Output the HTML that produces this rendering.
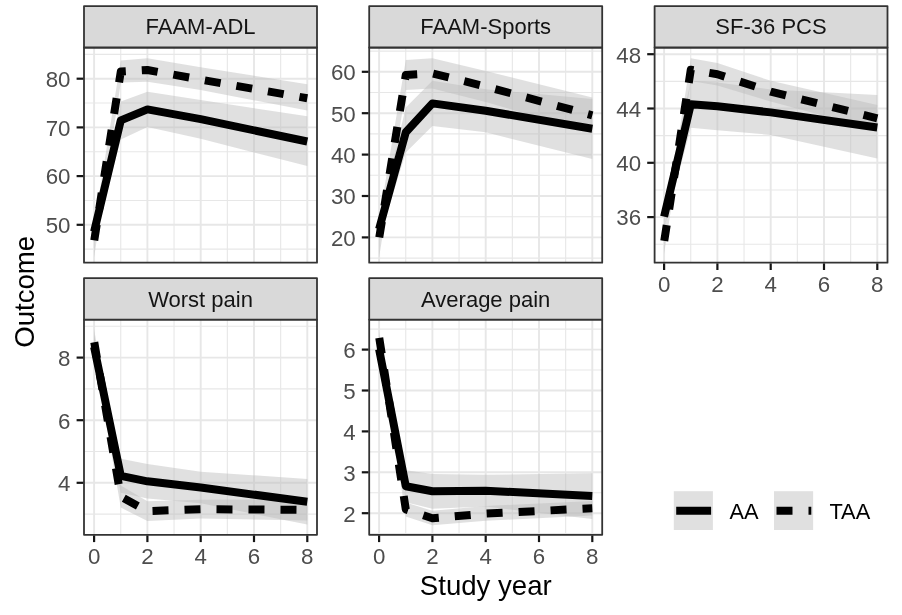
<!DOCTYPE html>
<html><head><meta charset="utf-8"><title>Outcome by study year</title>
<style>html,body{margin:0;padding:0;background:#fff}svg{display:block}text{font-family:"Liberation Sans",Arial,Helvetica,sans-serif}.ax{font-size:22.3px;fill:#4d4d4d}.st{font-size:22px;fill:#141414}.lg{font-size:21.8px;fill:#000}.ti{font-size:27.6px;fill:#000}.gM{stroke:#e7e7e7;stroke-width:1.9;fill:none}.gm{stroke:#e7e7e7;stroke-width:1.1;fill:none}.tk{stroke:#151515;stroke-width:2.2;fill:none}.bd{stroke:#333;stroke-width:1.8;fill:none;stroke-linejoin:round}.sb{stroke:#333;stroke-width:1.8;fill:#d9d9d9;stroke-linejoin:round}.rb{fill:#bbb;fill-opacity:.45;stroke:none}.ln{stroke:#000;stroke-width:8;fill:none;stroke-linejoin:round;stroke-linecap:butt}.ds{stroke-dasharray:16 16;stroke-dashoffset:-1}</style></head><body>
<svg width="902" height="615" viewBox="0 0 902 615">
<rect width="902" height="615" fill="#fff"/>
<g>
<clipPath id="c0"><rect x="84.0" y="47.5" width="233.0" height="215.2"/></clipPath>
<g clip-path="url(#c0)">
<path class="gm" d="M84.0 54.35H317.0"/>
<path class="gm" d="M84.0 103.05000000000001H317.0"/>
<path class="gm" d="M84.0 151.75H317.0"/>
<path class="gm" d="M84.0 200.45000000000002H317.0"/>
<path class="gm" d="M84.0 249.15H317.0"/>
<path class="gm" d="M120.75 47.5V262.7"/>
<path class="gm" d="M174.05 47.5V262.7"/>
<path class="gm" d="M227.35 47.5V262.7"/>
<path class="gm" d="M280.65 47.5V262.7"/>
<path class="gM" d="M84.0 78.7H317.0"/>
<path class="gM" d="M84.0 127.4H317.0"/>
<path class="gM" d="M84.0 176.1H317.0"/>
<path class="gM" d="M84.0 224.8H317.0"/>
<path class="gM" d="M94.10 47.5V262.7"/>
<path class="gM" d="M147.40 47.5V262.7"/>
<path class="gM" d="M200.70 47.5V262.7"/>
<path class="gM" d="M254.00 47.5V262.7"/>
<path class="gM" d="M307.30 47.5V262.7"/>
<polygon class="rb" points="94.1,223.6 120.8,101.4 147.4,91.7 200.7,100.0 307.3,116.3 307.3,166.0 200.7,138.8 147.4,127.1 120.8,139.4 94.1,239.6"/>
<polygon class="rb" points="94.1,225.4 120.8,60.4 147.4,58.3 200.7,67.2 307.3,84.2 307.3,110.5 200.7,90.0 147.4,81.7 120.8,82.6 94.1,257.4"/>
<polyline class="ln" points="94.1,231.6 120.8,120.4 147.4,109.4 200.7,119.1 307.3,141.5"/>
<polyline class="ln ds" points="94.1,241.4 120.8,71.5 147.4,70.0 200.7,79.6 307.3,98.3"/>
</g>
<rect class="bd" x="84.0" y="47.5" width="233.0" height="215.2"/>
<rect class="sb" x="84.0" y="6.1" width="233.0" height="41.4"/>
<text class="st" x="200.5" y="34.4" text-anchor="middle">FAAM-ADL</text>
<path class="tk" d="M76.6 78.7H83.3"/>
<text class="ax" x="70.5" y="87.0" text-anchor="end">80</text>
<path class="tk" d="M76.6 127.4H83.3"/>
<text class="ax" x="70.5" y="135.7" text-anchor="end">70</text>
<path class="tk" d="M76.6 176.1H83.3"/>
<text class="ax" x="70.5" y="184.4" text-anchor="end">60</text>
<path class="tk" d="M76.6 224.8H83.3"/>
<text class="ax" x="70.5" y="233.1" text-anchor="end">50</text>
</g>
<g>
<clipPath id="c1"><rect x="369.2" y="47.5" width="233.00000000000006" height="215.2"/></clipPath>
<g clip-path="url(#c1)">
<path class="gm" d="M369.2 51.1H602.2"/>
<path class="gm" d="M369.2 92.5H602.2"/>
<path class="gm" d="M369.2 133.9H602.2"/>
<path class="gm" d="M369.2 175.3H602.2"/>
<path class="gm" d="M369.2 216.70000000000002H602.2"/>
<path class="gm" d="M369.2 258.09999999999997H602.2"/>
<path class="gm" d="M405.75 47.5V262.7"/>
<path class="gm" d="M459.05 47.5V262.7"/>
<path class="gm" d="M512.35 47.5V262.7"/>
<path class="gm" d="M565.65 47.5V262.7"/>
<path class="gM" d="M369.2 71.80000000000001H602.2"/>
<path class="gM" d="M369.2 113.2H602.2"/>
<path class="gM" d="M369.2 154.6H602.2"/>
<path class="gM" d="M369.2 196.0H602.2"/>
<path class="gM" d="M369.2 237.4H602.2"/>
<path class="gM" d="M379.10 47.5V262.7"/>
<path class="gM" d="M432.40 47.5V262.7"/>
<path class="gM" d="M485.70 47.5V262.7"/>
<path class="gM" d="M539.00 47.5V262.7"/>
<path class="gM" d="M592.30 47.5V262.7"/>
<polygon class="rb" points="379.1,219.0 405.8,107.5 432.4,80.8 485.7,89.3 592.3,99.0 592.3,159.0 485.7,132.3 432.4,126.0 405.8,152.6 379.1,239.0"/>
<polygon class="rb" points="379.1,219.4 405.8,60.1 432.4,58.3 485.7,71.0 592.3,97.6 592.3,133.0 485.7,102.0 432.4,88.5 405.8,89.9 379.1,257.4"/>
<polyline class="ln" points="379.1,229.0 405.8,132.3 432.4,103.4 485.7,110.8 592.3,128.7"/>
<polyline class="ln ds" points="379.1,238.4 405.8,75.0 432.4,73.4 485.7,86.5 592.3,115.3"/>
</g>
<rect class="bd" x="369.2" y="47.5" width="233.00000000000006" height="215.2"/>
<rect class="sb" x="369.2" y="6.1" width="233.00000000000006" height="41.4"/>
<text class="st" x="485.7" y="34.4" text-anchor="middle">FAAM-Sports</text>
<path class="tk" d="M361.8 71.80000000000001H368.5"/>
<text class="ax" x="355.7" y="80.1" text-anchor="end">60</text>
<path class="tk" d="M361.8 113.2H368.5"/>
<text class="ax" x="355.7" y="121.5" text-anchor="end">50</text>
<path class="tk" d="M361.8 154.6H368.5"/>
<text class="ax" x="355.7" y="162.9" text-anchor="end">40</text>
<path class="tk" d="M361.8 196.0H368.5"/>
<text class="ax" x="355.7" y="204.3" text-anchor="end">30</text>
<path class="tk" d="M361.8 237.4H368.5"/>
<text class="ax" x="355.7" y="245.7" text-anchor="end">20</text>
</g>
<g>
<clipPath id="c2"><rect x="654.6" y="47.5" width="232.89999999999998" height="215.2"/></clipPath>
<g clip-path="url(#c2)">
<path class="gm" d="M654.6 81.35H887.5"/>
<path class="gm" d="M654.6 135.65H887.5"/>
<path class="gm" d="M654.6 189.95H887.5"/>
<path class="gm" d="M654.6 244.25H887.5"/>
<path class="gm" d="M690.75 47.5V262.7"/>
<path class="gm" d="M744.05 47.5V262.7"/>
<path class="gm" d="M797.35 47.5V262.7"/>
<path class="gm" d="M850.65 47.5V262.7"/>
<path class="gM" d="M654.6 54.2H887.5"/>
<path class="gM" d="M654.6 108.5H887.5"/>
<path class="gM" d="M654.6 162.79999999999998H887.5"/>
<path class="gM" d="M654.6 217.1H887.5"/>
<path class="gM" d="M664.10 47.5V262.7"/>
<path class="gM" d="M717.40 47.5V262.7"/>
<path class="gM" d="M770.70 47.5V262.7"/>
<path class="gM" d="M824.00 47.5V262.7"/>
<path class="gM" d="M877.30 47.5V262.7"/>
<polygon class="rb" points="664.1,204.7 690.8,80.8 717.4,82.4 770.7,89.5 877.3,94.9 877.3,158.5 770.7,134.9 717.4,130.2 690.8,127.8 664.1,228.7"/>
<polygon class="rb" points="664.1,229.9 690.8,58.3 717.4,63.0 770.7,80.8 877.3,104.9 877.3,130.3 770.7,101.6 717.4,85.4 690.8,81.1 664.1,253.9"/>
<polyline class="ln" points="664.1,216.7 690.8,104.3 717.4,106.3 770.7,112.4 877.3,127.5"/>
<polyline class="ln ds" points="664.1,241.9 690.8,69.7 717.4,74.2 770.7,91.6 877.3,118.3"/>
</g>
<rect class="bd" x="654.6" y="47.5" width="232.89999999999998" height="215.2"/>
<rect class="sb" x="654.6" y="6.1" width="232.89999999999998" height="41.4"/>
<text class="st" x="771.0" y="34.4" text-anchor="middle">SF-36 PCS</text>
<path class="tk" d="M647.2 54.2H653.9"/>
<text class="ax" x="641.1" y="62.5" text-anchor="end">48</text>
<path class="tk" d="M647.2 108.5H653.9"/>
<text class="ax" x="641.1" y="116.8" text-anchor="end">44</text>
<path class="tk" d="M647.2 162.79999999999998H653.9"/>
<text class="ax" x="641.1" y="171.1" text-anchor="end">40</text>
<path class="tk" d="M647.2 217.1H653.9"/>
<text class="ax" x="641.1" y="225.4" text-anchor="end">36</text>
<path class="tk" d="M664.10 263.4V270.0"/>
<text class="ax" x="664.10" y="291.5" text-anchor="middle">0</text>
<path class="tk" d="M717.40 263.4V270.0"/>
<text class="ax" x="717.40" y="291.5" text-anchor="middle">2</text>
<path class="tk" d="M770.70 263.4V270.0"/>
<text class="ax" x="770.70" y="291.5" text-anchor="middle">4</text>
<path class="tk" d="M824.00 263.4V270.0"/>
<text class="ax" x="824.00" y="291.5" text-anchor="middle">6</text>
<path class="tk" d="M877.30 263.4V270.0"/>
<text class="ax" x="877.30" y="291.5" text-anchor="middle">8</text>
</g>
<g>
<clipPath id="c3"><rect x="84.0" y="319.6" width="233.0" height="215.19999999999993"/></clipPath>
<g clip-path="url(#c3)">
<path class="gm" d="M84.0 326.3H317.0"/>
<path class="gm" d="M84.0 388.9H317.0"/>
<path class="gm" d="M84.0 451.5H317.0"/>
<path class="gm" d="M84.0 514.1H317.0"/>
<path class="gm" d="M120.75 319.6V534.8"/>
<path class="gm" d="M174.05 319.6V534.8"/>
<path class="gm" d="M227.35 319.6V534.8"/>
<path class="gm" d="M280.65 319.6V534.8"/>
<path class="gM" d="M84.0 357.6H317.0"/>
<path class="gM" d="M84.0 420.2H317.0"/>
<path class="gM" d="M84.0 482.8H317.0"/>
<path class="gM" d="M94.10 319.6V534.8"/>
<path class="gM" d="M147.40 319.6V534.8"/>
<path class="gM" d="M200.70 319.6V534.8"/>
<path class="gM" d="M254.00 319.6V534.8"/>
<path class="gM" d="M307.30 319.6V534.8"/>
<polygon class="rb" points="94.1,335.0 120.8,458.8 147.4,464.1 200.7,471.7 307.3,479.0 307.3,524.6 200.7,503.3 147.4,498.5 120.8,492.8 94.1,359.0"/>
<polygon class="rb" points="94.1,328.9 120.8,485.6 147.4,501.3 200.7,499.8 307.3,499.3 307.3,520.5 200.7,518.6 147.4,520.9 120.8,507.6 94.1,353.7"/>
<polyline class="ln" points="94.1,347.0 120.8,475.8 147.4,481.3 200.7,487.5 307.3,501.8"/>
<polyline class="ln ds" points="94.1,341.3 120.8,496.6 147.4,511.1 200.7,509.2 307.3,509.9"/>
</g>
<rect class="bd" x="84.0" y="319.6" width="233.0" height="215.19999999999993"/>
<rect class="sb" x="84.0" y="278.2" width="233.0" height="41.400000000000034"/>
<text class="st" x="200.5" y="306.5" text-anchor="middle">Worst pain</text>
<path class="tk" d="M76.6 357.6H83.3"/>
<text class="ax" x="70.5" y="365.9" text-anchor="end">8</text>
<path class="tk" d="M76.6 420.2H83.3"/>
<text class="ax" x="70.5" y="428.5" text-anchor="end">6</text>
<path class="tk" d="M76.6 482.8H83.3"/>
<text class="ax" x="70.5" y="491.1" text-anchor="end">4</text>
<path class="tk" d="M94.10 535.5V542.0999999999999"/>
<text class="ax" x="94.10" y="563.6" text-anchor="middle">0</text>
<path class="tk" d="M147.40 535.5V542.0999999999999"/>
<text class="ax" x="147.40" y="563.6" text-anchor="middle">2</text>
<path class="tk" d="M200.70 535.5V542.0999999999999"/>
<text class="ax" x="200.70" y="563.6" text-anchor="middle">4</text>
<path class="tk" d="M254.00 535.5V542.0999999999999"/>
<text class="ax" x="254.00" y="563.6" text-anchor="middle">6</text>
<path class="tk" d="M307.30 535.5V542.0999999999999"/>
<text class="ax" x="307.30" y="563.6" text-anchor="middle">8</text>
</g>
<g>
<clipPath id="c4"><rect x="369.2" y="319.6" width="233.00000000000006" height="215.19999999999993"/></clipPath>
<g clip-path="url(#c4)">
<path class="gm" d="M369.2 329.15H602.2"/>
<path class="gm" d="M369.2 370.05H602.2"/>
<path class="gm" d="M369.2 410.95H602.2"/>
<path class="gm" d="M369.2 451.85H602.2"/>
<path class="gm" d="M369.2 492.75H602.2"/>
<path class="gm" d="M369.2 533.65H602.2"/>
<path class="gm" d="M405.75 319.6V534.8"/>
<path class="gm" d="M459.05 319.6V534.8"/>
<path class="gm" d="M512.35 319.6V534.8"/>
<path class="gm" d="M565.65 319.6V534.8"/>
<path class="gM" d="M369.2 349.6H602.2"/>
<path class="gM" d="M369.2 390.5H602.2"/>
<path class="gM" d="M369.2 431.4H602.2"/>
<path class="gM" d="M369.2 472.3H602.2"/>
<path class="gM" d="M369.2 513.2H602.2"/>
<path class="gM" d="M379.10 319.6V534.8"/>
<path class="gM" d="M432.40 319.6V534.8"/>
<path class="gM" d="M485.70 319.6V534.8"/>
<path class="gM" d="M539.00 319.6V534.8"/>
<path class="gM" d="M592.30 319.6V534.8"/>
<polygon class="rb" points="379.1,340.0 405.8,470.3 432.4,473.9 485.7,474.8 592.3,473.3 592.3,518.9 485.7,506.6 432.4,508.7 405.8,502.3 379.1,360.0"/>
<polygon class="rb" points="379.1,331.6 405.8,502.6 432.4,510.8 485.7,506.0 592.3,501.0 592.3,515.6 485.7,520.8 432.4,525.2 405.8,516.4 379.1,343.6"/>
<polyline class="ln" points="379.1,349.3 405.8,486.3 432.4,491.3 485.7,490.7 592.3,496.1"/>
<polyline class="ln ds" points="379.1,336.9 405.8,509.4 432.4,518.2 485.7,513.6 592.3,508.3"/>
</g>
<rect class="bd" x="369.2" y="319.6" width="233.00000000000006" height="215.19999999999993"/>
<rect class="sb" x="369.2" y="278.2" width="233.00000000000006" height="41.400000000000034"/>
<text class="st" x="485.7" y="306.5" text-anchor="middle">Average pain</text>
<path class="tk" d="M361.8 349.6H368.5"/>
<text class="ax" x="355.7" y="357.9" text-anchor="end">6</text>
<path class="tk" d="M361.8 390.5H368.5"/>
<text class="ax" x="355.7" y="398.8" text-anchor="end">5</text>
<path class="tk" d="M361.8 431.4H368.5"/>
<text class="ax" x="355.7" y="439.7" text-anchor="end">4</text>
<path class="tk" d="M361.8 472.3H368.5"/>
<text class="ax" x="355.7" y="480.6" text-anchor="end">3</text>
<path class="tk" d="M361.8 513.2H368.5"/>
<text class="ax" x="355.7" y="521.5" text-anchor="end">2</text>
<path class="tk" d="M379.10 535.5V542.0999999999999"/>
<text class="ax" x="379.10" y="563.6" text-anchor="middle">0</text>
<path class="tk" d="M432.40 535.5V542.0999999999999"/>
<text class="ax" x="432.40" y="563.6" text-anchor="middle">2</text>
<path class="tk" d="M485.70 535.5V542.0999999999999"/>
<text class="ax" x="485.70" y="563.6" text-anchor="middle">4</text>
<path class="tk" d="M539.00 535.5V542.0999999999999"/>
<text class="ax" x="539.00" y="563.6" text-anchor="middle">6</text>
<path class="tk" d="M592.30 535.5V542.0999999999999"/>
<text class="ax" x="592.30" y="563.6" text-anchor="middle">8</text>
</g>
<text class="ti" x="485.8" y="595.2" text-anchor="middle">Study year</text>
<text class="ti" transform="translate(33.5 291.8) rotate(-90)" text-anchor="middle">Outcome</text>
<rect x="673.8" y="491.2" width="39.1" height="38.8" fill="#bbb" fill-opacity=".45"/>
<path class="ln" d="M676.2 510.8H711.1"/>
<text class="lg" x="729.4" y="518.6">AA</text>
<rect x="774" y="491.2" width="39.1" height="38.8" fill="#bbb" fill-opacity=".45"/>
<path class="ln" stroke-dasharray="16 16" d="M776.5 510.8H811.3"/>
<text class="lg" x="829.4" y="518.6">TAA</text>
</svg></body></html>
